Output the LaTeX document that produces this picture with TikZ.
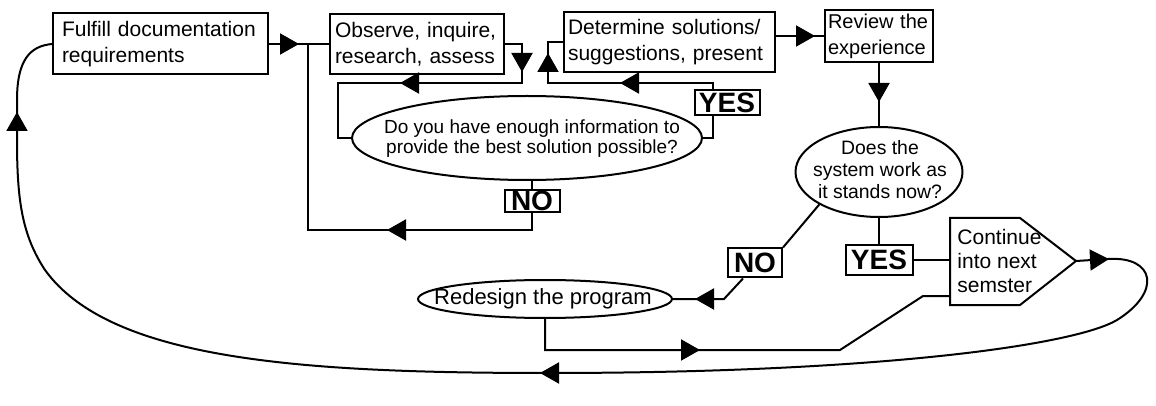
\documentclass[tikz,border=0pt]{standalone}
\usepackage{fontspec}
\setmainfont{Liberation Sans}
\usepackage{tikz}
\usetikzlibrary{arrows.meta,shapes.geometric}

\tikzset{
  flow/.style={line width=1pt},
  tri/.style={flow, -{Triangle[length=9.5pt,width=10.5pt]}},
  stepbox/.style={draw, line width=1pt, align=left, inner ysep=0pt,
    font=\fontsize{10.5}{13}\selectfont},
  query/.style={draw, ellipse, line width=1pt, inner sep=0pt},
  answer/.style={draw, line width=1pt, inner sep=0.5pt,
    font=\fontsize{14}{14}\selectfont\bfseries},
}

\begin{document}
\begin{tikzpicture}[x=0.5pt,y=-0.5pt]
				\useasboundingbox (0,0) rectangle (1156,406);
				
				% Boxes along the top
				\node[stepbox, inner xsep=4.5pt, text width=98.5pt, minimum height=30.5pt] (fulfill) at (160.5,44) {Fulfill documentation\\requirements};
				\node[stepbox, inner xsep=2.5pt, text width=82pt, minimum height=30pt] (observe) at (417,44) {Observe, inquire,\\research, assess};
				\node[stepbox, inner xsep=2pt, text width=101.5pt, minimum height=30pt] (determine) at (669.5,42) {Determine solutions/\\suggestions, present};
				\node[stepbox, inner xsep=1.5pt, text width=51pt, minimum height=26pt, font=\fontsize{10}{13}\selectfont] (review) at (879,36) {Review the\\experience};
				
				% Questions
				\node[query, minimum width=175pt, minimum height=42pt] (info) at (527,138) {};
				\node[align=center, font=\fontsize{9.5}{10}\selectfont] (infotext) at (532,139) {Do you have enough information to\\provide the best solution possible?};
				\node[query, minimum width=83.5pt, minimum height=45pt] (works) at (879,172) {};
				\node[align=center, font=\fontsize{9.7}{11}\selectfont] (workstext) at (880,170) {Does the\\system work as\\it stands now?};
				\node[query, minimum width=127pt, minimum height=19pt] (redesign) at (545,299) {};
				\node[font=\fontsize{11}{12}\selectfont] (redesigntext) at (543,299) {Redesign the program};
				
				% Answers
				\node[answer, minimum width=27.5pt, minimum height=11pt] (no1) at (532,201) {NO};
				\node[answer, minimum width=32.5pt, minimum height=12.5pt] (yes1) at (727,102.5) {YES};
				\node[answer, minimum width=27pt, minimum height=14.5pt] (no2) at (755,263) {NO};
				\node[answer, minimum width=33.5pt, minimum height=15pt] (yes2) at (879,260) {YES};
				
				% Next semester
				\draw[flow] (950,218) -- (1020,218) -- (1076,261) -- (1020,305) -- (950,305) -- cycle;
				\coordinate (cw) at (950,260);
				\coordinate (cw2) at (950,296);
				\coordinate (ctip) at (1076,261);
				\node[anchor=west, align=left, inner sep=0pt, font=\fontsize{10.5}{12}\selectfont] (cont) at (957,261) {Continue\\into next\\semster};
				
				% Top line
				\draw[flow] (fulfill.east) -- (observe.west);
				\draw[tri] (fulfill.east) -- ++(30,0);
				\coordinate (j1) at (308,44);
				\coordinate (nobot) at (532,230);
				\draw[flow] (no1.north) -- (no1.north |- info.south);
				\draw[flow] (no1.south) -- (nobot) -| (j1);
				\draw[tri] (nobot) -- (387,230);
				
				% Observe -> question
				\coordinate (o1) at (522,44);
				\coordinate (o2) at (522,83);
				\coordinate (o3) at (338,83);
				\draw[flow] (observe.east) -- (o1) -- (o2) -- (o3) |- (info.west);
				\draw[tri] (o1) -- (522,72);
				\draw[tri] (o2) -- (400,83);
				
				% YES -> determine
				\coordinate (yturn) at (713,83);
				\coordinate (up) at (548,83);
				\draw[flow] (info.east) -| ([xshift=-7pt]yes1.south);
				\draw[flow] ([xshift=-7pt]yes1.north) -- (yturn) -- (up) |- (determine.west);
				\draw[tri] (yturn) -- (620,83);
				\draw[tri] (up) -- (548,53);
				
				% Determine -> review -> question
				\draw[flow] (determine.east |- review.west) -- (review.west);
				\draw[tri] (determine.east |- review.west) -- (815,36);
				\draw[flow] (review.south) -- (works.north);
				\draw[tri] (review.south) -- (879,102);
				
				% NO -> redesign
				\coordinate (nb) at (724,299);
				\draw[flow] (works.south west) -- (no2.north east);
				\draw[flow] ([xshift=-6pt]no2.south) -- (nb) -- (redesign.east);
				\draw[tri] (nb) -- (695,299);
				
				% YES -> next semester
				\draw[flow] (works.south) -- (yes2.north);
				\draw[flow] (yes2.east) -- (cw);
				
				% Redesign -> next semester
				\coordinate (r2) at (840,350);
				\coordinate (r3) at (923,296);
				\draw[flow] (redesign.south) |- (r2) -- (r3) -- (cw2);
				\draw[tri] (redesign.south |- r2) -- (700,350);
				
				% Back round to the start
				\draw[flow] (ctip) -- (1108,259) .. controls (1155,256) and (1162,292) .. (1117,320)
				  .. controls (1075,345) and (880,373) .. (548,373)
				  .. controls (300,373) and (110,360) .. (45,270)
				  .. controls (22,235) and (17,200) .. (17,140) -- (17,100)
				  .. controls (17,60) and (30,46) .. (fulfill.west);
				\draw[tri] (1090,260) -- (1109,259);
				\draw[tri] (560,373) -- (540,373);
				\draw[tri] (17,135) -- (17,112);
				
\end{tikzpicture}
\end{document}
